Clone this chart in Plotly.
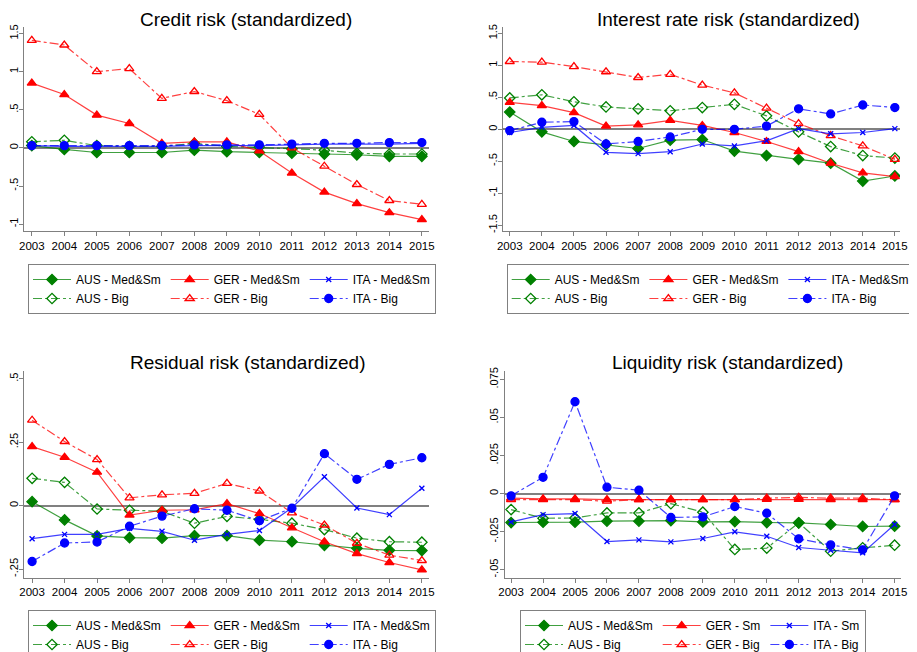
import plotly.graph_objects as go
from plotly.subplots import make_subplots

# ----------------------------
# DATA
# ----------------------------
years = list(range(2003, 2016))

credit_aus_ms = [0.03, -0.02, -0.06, -0.06, -0.06, -0.03, -0.05, -0.06, -0.07, -0.08, -0.09, -0.11, -0.11]
credit_aus_big = [0.08, 0.10, 0.03, 0.02, 0.02, 0.06, 0.02, 0.01, -0.01, -0.03, -0.07, -0.08, -0.08]
credit_ger_ms = [0.85, 0.70, 0.43, 0.32, 0.06, 0.08, 0.08, -0.04, -0.33, -0.58, -0.73, -0.85, -0.94]
credit_ger_big = [1.41, 1.35, 1.00, 1.04, 0.65, 0.74, 0.62, 0.44, 0.00, -0.24, -0.48, -0.69, -0.74]
credit_ita_ms = [0.03, 0.02, 0.02, 0.02, 0.02, 0.03, 0.03, 0.03, 0.04, 0.05, 0.05, 0.05, 0.06]
credit_ita_big = [0.03, 0.03, 0.03, 0.03, 0.03, 0.04, 0.04, 0.04, 0.05, 0.06, 0.06, 0.07, 0.07]

irr_aus_ms = [0.27, -0.04, -0.19, -0.24, -0.30, -0.17, -0.16, -0.34, -0.41, -0.47, -0.53, -0.81, -0.73]
irr_aus_big = [0.49, 0.54, 0.43, 0.35, 0.32, 0.29, 0.34, 0.39, 0.21, -0.04, -0.27, -0.41, -0.45]
irr_ger_ms = [0.42, 0.37, 0.26, 0.05, 0.07, 0.14, 0.06, -0.05, -0.19, -0.35, -0.53, -0.68, -0.74]
irr_ger_big = [1.06, 1.05, 0.98, 0.90, 0.81, 0.86, 0.69, 0.57, 0.33, 0.09, -0.10, -0.26, -0.47]
irr_ita_ms = [-0.05, 0.03, 0.06, -0.36, -0.38, -0.35, -0.23, -0.26, -0.18, 0.01, -0.07, -0.05, 0.01]
irr_ita_big = [-0.02, 0.11, 0.12, -0.23, -0.19, -0.12, 0.00, 0.00, 0.05, 0.32, 0.24, 0.38, 0.34]

res_aus_ms = [0.016, -0.056, -0.119, -0.126, -0.128, -0.118, -0.118, -0.136, -0.142, -0.156, -0.168, -0.176, -0.177]
res_aus_big = [0.108, 0.092, -0.013, -0.018, -0.022, -0.069, -0.042, -0.054, -0.069, -0.094, -0.128, -0.142, -0.144]
res_ger_ms = [0.233, 0.191, 0.132, -0.037, -0.018, -0.016, 0.008, -0.031, -0.087, -0.142, -0.189, -0.224, -0.253]
res_ger_big = [0.337, 0.253, 0.182, 0.031, 0.043, 0.049, 0.088, 0.058, -0.028, -0.076, -0.148, -0.195, -0.216]
res_ita_ms = [-0.130, -0.113, -0.113, -0.089, -0.101, -0.136, -0.113, -0.098, -0.008, 0.114, -0.009, -0.035, 0.069]
res_ita_big = [-0.220, -0.147, -0.143, -0.081, -0.041, -0.012, -0.018, -0.059, -0.010, 0.205, 0.104, 0.163, 0.189]

liq_aus_ms = [-0.0190, -0.0188, -0.0188, -0.0181, -0.0181, -0.0177, -0.0186, -0.0184, -0.0190, -0.0192, -0.0203, -0.0216, -0.0214]
liq_aus_big = [-0.0105, -0.0162, -0.0160, -0.0127, -0.0127, -0.0066, -0.0122, -0.0367, -0.0358, -0.0192, -0.0378, -0.0356, -0.0339]
liq_ger_sm = [-0.0030, -0.0035, -0.0035, -0.0040, -0.0040, -0.0040, -0.0040, -0.0040, -0.0038, -0.0038, -0.0040, -0.0040, -0.0040]
liq_ger_big = [-0.0040, -0.0040, -0.0040, -0.0050, -0.0040, -0.0040, -0.0040, -0.0040, -0.0030, -0.0025, -0.0030, -0.0030, -0.0040]
liq_ita_sm = [-0.0186, -0.0138, -0.0131, -0.0315, -0.0304, -0.0317, -0.0295, -0.0251, -0.0280, -0.0354, -0.0372, -0.0389, -0.0203]
liq_ita_big = [-0.0015, 0.0107, 0.0603, 0.0042, 0.0022, -0.0157, -0.0153, -0.0085, -0.0129, -0.0297, -0.0337, -0.0369, -0.0015]

titles = ["Credit risk (standardized)", "Interest rate risk (standardized)",
          "Residual risk (standardized)", "Liquidity risk (standardized)"]

# ----------------------------
# STYLE
# ----------------------------
# the page body keeps its default 8px margin: window pixel X sits at figure pixel X - 8
OFF = 8
W, H = 917, 652
FONT = "Liberation Sans, Arial, sans-serif"
COLORS = {"AUS": "#008000", "GER": "#ff0000", "ITA": "#0000ff"}
LINE_COLORS = {"AUS": "rgba(0,128,0,0.75)", "GER": "rgba(255,0,0,0.75)", "ITA": "rgba(0,0,255,0.75)"}
GRAY = "#808080"


def fx(px):
    return (px - OFF) / W


def fy(py):
    return 1 - (py - OFF) / H


def series_style(country, size_class):
    color = COLORS[country]
    big = size_class == "Big"
    if country == "AUS":
        symbol, msize = ("diamond-open" if big else "diamond"), 8
    elif country == "GER":
        symbol, msize = ("triangle-up-open" if big else "triangle-up"), 8
    else:
        symbol, msize = ("circle" if big else "x-thin-open"), (8 if big else 5)
    return dict(
        line=dict(color=LINE_COLORS[country], width=1.2, dash="dashdot" if big else "solid"),
        marker=dict(symbol=symbol, size=msize, color=color,
                    line=dict(color=color, width=1.3)),
    )


panels = [
    # (row, col, legend, series)
    (1, 1, "legend", [
        ("AUS", "Med&Sm", credit_aus_ms), ("AUS", "Big", credit_aus_big),
        ("GER", "Med&Sm", credit_ger_ms), ("GER", "Big", credit_ger_big),
        ("ITA", "Med&Sm", credit_ita_ms), ("ITA", "Big", credit_ita_big)]),
    (1, 2, "legend2", [
        ("AUS", "Med&Sm", irr_aus_ms), ("AUS", "Big", irr_aus_big),
        ("GER", "Med&Sm", irr_ger_ms), ("GER", "Big", irr_ger_big),
        ("ITA", "Med&Sm", irr_ita_ms), ("ITA", "Big", irr_ita_big)]),
    (2, 1, "legend3", [
        ("AUS", "Med&Sm", res_aus_ms), ("AUS", "Big", res_aus_big),
        ("GER", "Med&Sm", res_ger_ms), ("GER", "Big", res_ger_big),
        ("ITA", "Med&Sm", res_ita_ms), ("ITA", "Big", res_ita_big)]),
    (2, 2, "legend4", [
        ("AUS", "Med&Sm", liq_aus_ms), ("AUS", "Big", liq_aus_big),
        ("GER", "Sm", liq_ger_sm), ("GER", "Big", liq_ger_big),
        ("ITA", "Sm", liq_ita_sm), ("ITA", "Big", liq_ita_big)]),
]

fig = make_subplots(rows=2, cols=2)

for row, col, legend_name, series in panels:
    for country, size_class, values in series:
        fig.add_trace(
            go.Scatter(
                x=years, y=values,
                mode="lines+markers",
                name=f"{country} - {size_class}",
                legend=legend_name,
                legendgroup=f"{legend_name}_{country}",
                **series_style(country, size_class),
            ),
            row=row, col=col,
        )

# ----------------------------
# AXES
# ----------------------------
# window-pixel boxes: (left, right, top, bottom)
boxes = [(24, 429, 26.7, 231), (503, 900, 26.7, 231),
         (24.3, 429, 371, 577.5), (504.7, 901, 371, 577.5)]
x_ranges = [[2002.76, 2015.22], [2002.79, 2015.16], [2002.76, 2015.22], [2002.80, 2015.2]]
y_ranges = [[-1.09, 1.59], [-1.59, 1.604], [-0.283, 0.531], [-0.0551, 0.0805]]
y_ticks = [
    ([1.5, 1, 0.5, 0, -0.5, -1], ["1.5", "1", ".5", "0", "-.5", "-1"]),
    ([1.5, 1, 0.5, 0, -0.5, -1, -1.5], ["1.5", "1", ".5", "0", "-.5", "-1", "-1.5"]),
    ([0.5, 0.25, 0, -0.25], [".5", ".25", "0", "-.25"]),
    ([0.075, 0.05, 0.025, 0, -0.025, -0.05], [".075", ".05", ".025", "0", "-.025", "-.05"]),
]

for i, (l, r, t, b) in enumerate(boxes):
    suffix = "" if i == 0 else str(i + 1)
    fig.layout["xaxis" + suffix].update(
        domain=[fx(l), fx(r)], range=x_ranges[i],
        tickvals=years, ticktext=[str(y) for y in years],
        showgrid=False, zeroline=False,
        showline=True, linecolor=GRAY, linewidth=1,
        ticks="outside", ticklen=4, tickcolor=GRAY,
        ticklabeloverflow="allow",
        tickfont=dict(size=11.5, color="black"),
    )
    fig.layout["yaxis" + suffix].update(
        domain=[fy(b), fy(t)], range=y_ranges[i],
        tickvals=y_ticks[i][0], ticktext=y_ticks[i][1],
        tickangle=-90,
        showgrid=False,
        zeroline=True, zerolinecolor=GRAY, zerolinewidth=1.5,
        showline=True, linecolor=GRAY, linewidth=1,
        ticks="outside", ticklen=4, tickcolor=GRAY,
        ticklabelstandoff=-3,
        ticklabeloverflow="allow",
        tickfont=dict(size=11, color="black"),
    )

# ----------------------------
# TITLES + LEGENDS
# ----------------------------
title_pos = [(245.7, 19.5), (728, 19.5), (248, 362), (727, 362)]
for text, (cx, cy) in zip(titles, title_pos):
    fig.add_annotation(
        text=text, x=fx(cx), y=fy(cy), xref="paper", yref="paper",
        xanchor="center", yanchor="middle", showarrow=False,
        font=dict(size=19, color="black"),
    )

legend_pos = {"legend": (28, 264), "legend2": (506.7, 264),
              "legend3": (28, 610), "legend4": (520, 610)}

legend_style = dict(
    orientation="h", traceorder="grouped",
    xanchor="left", yanchor="top",
    bordercolor=GRAY, borderwidth=1, bgcolor="white",
    font=dict(size=12, color="black"),
    tracegroupgap=0, itemwidth=38,
)

fig.update_layout(
    width=W, height=H,
    margin=dict(l=0, r=0, t=0, b=0, autoexpand=False),
    plot_bgcolor="white", paper_bgcolor="white",
    font=dict(family=FONT, color="black"),
    **{name: dict(legend_style, x=fx(px), y=fy(py))
       for name, (px, py) in legend_pos.items()},
)

fig.write_html("out.html")
